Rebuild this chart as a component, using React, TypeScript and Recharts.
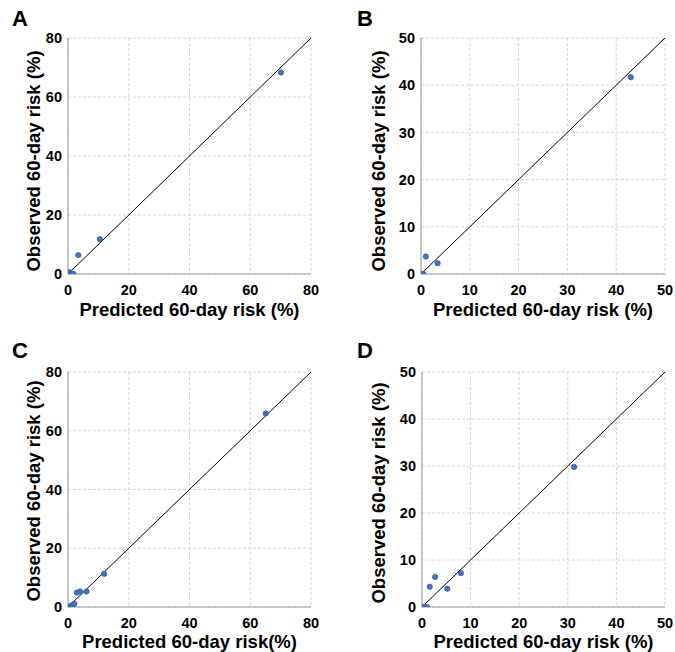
import React from "react";
import {
  ScatterChart,
  Scatter,
  XAxis,
  YAxis,
  CartesianGrid,
  ReferenceLine,
  Label,
} from "recharts";

// Values (predicted vs observed 60-day risk, %)
const panelAPredicted = [0, 0.4, 1.2, 1.8, 3.4, 10.5, 70.1];
const panelAObserved = [0, 0.6, 0.1, 0, 6.4, 11.8, 68.3];

const panelBPredicted = [0, 0.5, 1.0, 3.4, 43.0];
const panelBObserved = [0, 0, 3.7, 2.3, 41.7];

const panelCPredicted = [0, 0.5, 1.0, 1.5, 2.1, 2.9, 4.0, 6.1, 11.9, 65.1];
const panelCObserved = [0, 0, 0.3, 0.7, 1.1, 4.9, 5.3, 5.3, 11.3, 65.9];

const panelDPredicted = [0, 0.5, 1.0, 1.6, 2.7, 5.2, 8.0, 31.3];
const panelDObserved = [0, 0, 0, 4.3, 6.4, 3.9, 7.2, 29.8];

const ticks80 = [0, 20, 40, 60, 80];
const ticks50 = [0, 10, 20, 30, 40, 50];

const yTitle = "Observed 60-day risk (%)";
const xTitleSpaced = "Predicted 60-day risk (%)";
const xTitleTight = "Predicted 60-day risk(%)";

const FONT = "'Liberation Sans', Arial, Helvetica, sans-serif";
const Y_AXIS_W = 40;
const X_AXIS_H = 44;

const toPoints = (xs: number[], ys: number[]) =>
  xs.map((x, i) => ({ x, y: ys[i] }));

const Dot = (props: any) => (
  <circle cx={props.cx} cy={props.cy} r={2.7} fill="#4472c4" stroke="#2f528f" strokeWidth={0.6} />
);

interface PanelProps {
  letter: string;
  predicted: number[];
  observed: number[];
  ticks: number[];
  xTitle: string;
  left: number;
  top: number;
  width: number;
  height: number;
  plotX0: number;
  plotX1: number;
  plotY0: number;
  plotY1: number;
  yTitleGap: number;
  yTitleCy: number;
  xTitleDrop: number;
  letterX: number;
  letterY: number;
}

function Panel(p: PanelProps) {
  const max = p.ticks[p.ticks.length - 1];
  const data = toPoints(p.predicted, p.observed);
  // local plot coordinates
  const x0 = p.plotX0 - p.left;
  const x1 = p.plotX1 - p.left;
  const y0 = p.plotY0 - p.top;
  const y1 = p.plotY1 - p.top;
  const margin = {
    top: y0,
    right: p.width - x1,
    left: x0 - Y_AXIS_W,
    bottom: p.height - y1 - X_AXIS_H,
  };
  const yCx = x0 - p.yTitleGap;
  const yCy = p.yTitleCy - p.top;
  const xCx = (x0 + x1) / 2;
  const xCy = y1 + p.xTitleDrop;
  const tickStyle = { fill: "#000", fontSize: 14.5, fontWeight: 700, fontFamily: FONT };

  return (
    <div style={{ position: "absolute", left: p.left, top: p.top, width: p.width, height: p.height }}>
      <div
        style={{
          position: "absolute",
          left: p.letterX - p.left,
          top: p.letterY - p.top - 4,
          fontFamily: FONT,
          fontWeight: 700,
          fontSize: 22,
          lineHeight: "22px",
          color: "#000",
        }}
      >
        {p.letter}
      </div>
      <ScatterChart width={p.width} height={p.height} margin={margin}>
        <CartesianGrid stroke="#d6d6d6" strokeDasharray="3 2" />
        <XAxis
          type="number"
          dataKey="x"
          domain={[0, max]}
          ticks={p.ticks}
          height={X_AXIS_H}
          tickLine={false}
          tickSize={0}
          tickMargin={11}
          axisLine={{ stroke: "#9a9a9a" }}
          tick={tickStyle}
          allowDataOverflow
        >
          <Label
            content={() => (
              <text
                x={xCx}
                y={xCy}
                textAnchor="middle"
                dominantBaseline="central"
                fontFamily={FONT}
                fontWeight={700}
                fontSize={18.5}
                fill="#000"
              >
                {p.xTitle}
              </text>
            )}
          />
        </XAxis>
        <YAxis
          type="number"
          dataKey="y"
          domain={[0, max]}
          ticks={p.ticks}
          width={Y_AXIS_W}
          tickLine={false}
          tickSize={0}
          tickMargin={6}
          axisLine={{ stroke: "#9a9a9a" }}
          tick={tickStyle}
          allowDataOverflow
        >
          <Label
            content={() => (
              <text
                x={yCx}
                y={yCy}
                transform={`rotate(-90 ${yCx} ${yCy})`}
                textAnchor="middle"
                dominantBaseline="central"
                fontFamily={FONT}
                fontWeight={700}
                fontSize={18.5}
                fill="#000"
              >
                {yTitle}
              </text>
            )}
          />
        </YAxis>
        <ReferenceLine
          segment={[
            { x: 0, y: 0 },
            { x: max, y: max },
          ]}
          stroke="#000"
          strokeWidth={1}
          ifOverflow="visible"
        />
        <Scatter data={data} shape={Dot} isAnimationActive={false} />
      </ScatterChart>
    </div>
  );
}

export default function App() {
  return (
    <div
      style={{
        position: "absolute",
        left: 0,
        top: 0,
        width: 675,
        height: 652,
        background: "#fff",
        overflow: "hidden",
      }}
    >
      <Panel
        letter="A"
        predicted={panelAPredicted}
        observed={panelAObserved}
        ticks={ticks80}
        xTitle={xTitleSpaced}
        left={0}
        top={0}
        width={337}
        height={326}
        plotX0={68}
        plotX1={311}
        plotY0={38}
        plotY1={274}
        yTitleGap={35}
        yTitleCy={161}
        xTitleDrop={35}
        letterX={12}
        letterY={12}
      />
      <Panel
        letter="B"
        predicted={panelBPredicted}
        observed={panelBObserved}
        ticks={ticks50}
        xTitle={xTitleSpaced}
        left={337}
        top={0}
        width={338}
        height={326}
        plotX0={421}
        plotX1={665}
        plotY0={38}
        plotY1={274}
        yTitleGap={43}
        yTitleCy={161}
        xTitleDrop={35}
        letterX={357}
        letterY={12}
      />
      <Panel
        letter="C"
        predicted={panelCPredicted}
        observed={panelCObserved}
        ticks={ticks80}
        xTitle={xTitleTight}
        left={0}
        top={326}
        width={337}
        height={326}
        plotX0={68}
        plotX1={311}
        plotY0={372}
        plotY1={607}
        yTitleGap={35}
        yTitleCy={491}
        xTitleDrop={34}
        letterX={12}
        letterY={344}
      />
      <Panel
        letter="D"
        predicted={panelDPredicted}
        observed={panelDObserved}
        ticks={ticks50}
        xTitle={xTitleSpaced}
        left={337}
        top={326}
        width={338}
        height={326}
        plotX0={422}
        plotX1={665}
        plotY0={372}
        plotY1={607}
        yTitleGap={44}
        yTitleCy={493}
        xTitleDrop={34}
        letterX={357}
        letterY={344}
      />
    </div>
  );
}
